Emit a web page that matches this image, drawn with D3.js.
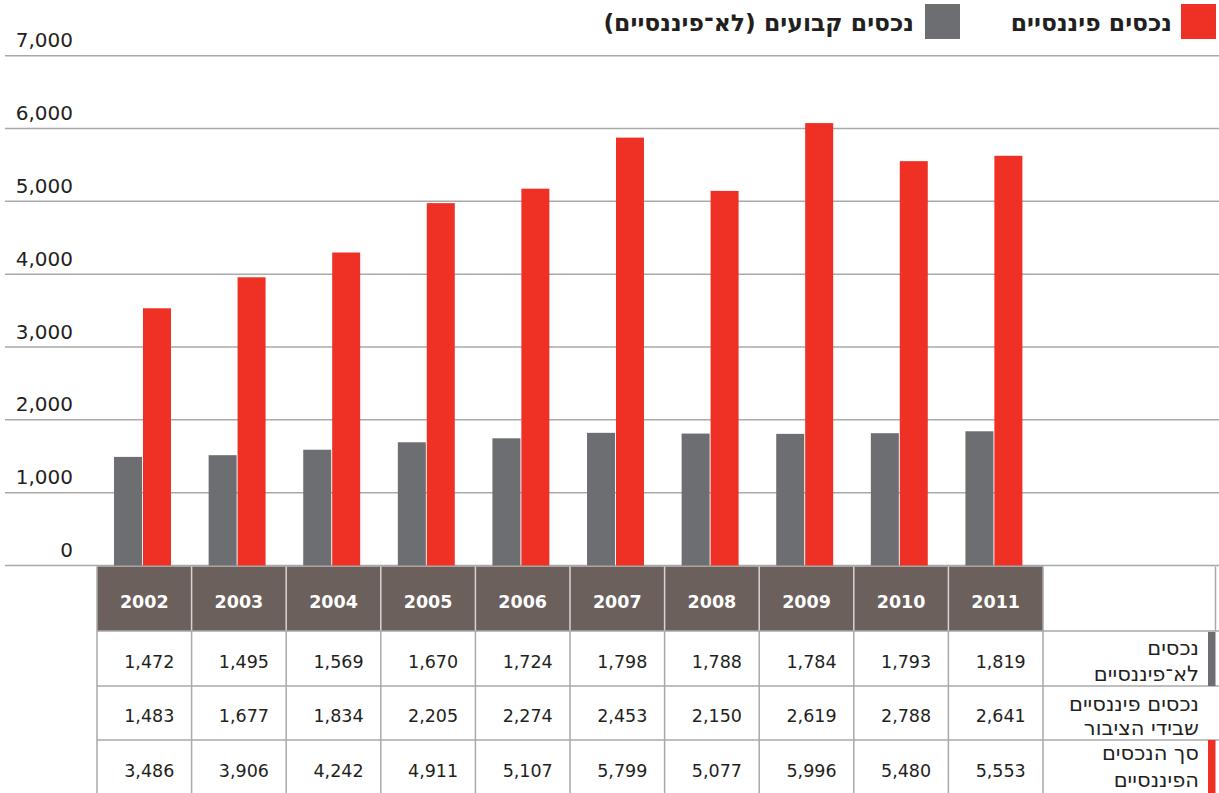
<!DOCTYPE html>
<html>
<head>
<meta charset="utf-8">
<script src="https://cdn.jsdelivr.net/npm/d3@7"></script>
<style>
  body { margin: 0; background: #fff; }
  svg { display: block; font-family: "DejaVu Sans", sans-serif; }
</style>
</head>
<body>
<div id="chart"></div>
<script>
// data
const years = ["2002", "2003", "2004", "2005", "2006", "2007", "2008", "2009", "2010", "2011"];
const nonFinancial = [1472, 1495, 1569, 1670, 1724, 1798, 1788, 1784, 1793, 1819];
const publicFinancial = [1483, 1677, 1834, 2205, 2274, 2453, 2150, 2619, 2788, 2641];
const totalFinancial = [3486, 3906, 4242, 4911, 5107, 5799, 5077, 5996, 5480, 5553];
const yTicks = [0, 1000, 2000, 3000, 4000, 5000, 6000, 7000];
const legendLabels = ["נכסים פיננסיים", "נכסים קבועים (לא־פיננסיים)"];
const rowLabels = [
    ["נכסים", "לא־פיננסיים"],
    ["נכסים פיננסיים", "שבידי הציבור"],
    ["סך הנכסים", "הפיננסיים"]
];

const width = 1219, height = 793;
const red = "#ee3124", gray = "#6d6e71", headFill = "#6b605c", gridCol = "#a9a9a9";

let svg = d3.select("#chart").append("svg")
    .attr("width", width)
    .attr("height", height);

// scales (the bars in the original are drawn a touch taller than the grid)
let y = d3.scaleLinear().domain([0, 7000]).range([565.5, 55.7]);
let yBar = d3.scaleLinear().domain([0, 7000]).range([565.5, 49]);
let x = d3.scaleBand().domain(years).range([97, 1043]).padding(0);
let bw = x.bandwidth();

// gridlines + tick labels
svg.append("g").selectAll("line")
    .data(yTicks)
    .enter().append("line")
    .attr("x1", 5).attr("x2", width)
    .attr("y1", d => y(d)).attr("y2", d => y(d))
    .attr("stroke", gridCol).attr("stroke-width", 1.5);

svg.append("g").selectAll("text")
    .data(yTicks)
    .enter().append("text")
    .attr("x", 73)
    .attr("y", d => y(d) - 8.5)
    .attr("text-anchor", "end")
    .attr("font-size", 20)
    .attr("fill", "#231f20")
    .text(d => d3.format(",")(d));

// bars
let bars = svg.append("g");
bars.selectAll("rect.gray")
    .data(years)
    .enter().append("rect")
    .attr("class", "gray")
    .attr("x", d => x(d) + bw * 0.18)
    .attr("width", bw * 0.296)
    .attr("y", (d, i) => yBar(nonFinancial[i]))
    .attr("height", (d, i) => yBar(0) - yBar(nonFinancial[i]))
    .attr("fill", gray);

bars.selectAll("rect.red")
    .data(years)
    .enter().append("rect")
    .attr("class", "red")
    .attr("x", d => x(d) + bw * 0.486)
    .attr("width", bw * 0.296)
    .attr("y", (d, i) => yBar(totalFinancial[i]))
    .attr("height", (d, i) => yBar(0) - yBar(totalFinancial[i]))
    .attr("fill", red);

// legend
let legend = svg.append("g").attr("font-weight", "bold").attr("font-size", 23.5).attr("fill", "#231f20");
legend.append("rect").attr("x", 1181).attr("y", 4).attr("width", 35).attr("height", 35).attr("fill", red);
legend.append("text").attr("x", 1172).attr("y", 31)
    .attr("direction", "rtl").attr("text-anchor", "start").text(legendLabels[0]);
legend.append("rect").attr("x", 925).attr("y", 4).attr("width", 35).attr("height", 35).attr("fill", gray);
legend.append("text").attr("x", 914).attr("y", 31)
    .attr("direction", "rtl").attr("text-anchor", "start").text(legendLabels[1]);

// table
let tTop = 566.5, headBottom = 631, rowEdges = [631, 686, 740, 793];
let table = svg.append("g");

table.selectAll("rect.head")
    .data(years)
    .enter().append("rect")
    .attr("x", d => x(d))
    .attr("y", tTop)
    .attr("width", bw)
    .attr("height", headBottom - tTop)
    .attr("fill", headFill);

table.selectAll("text.year")
    .data(years)
    .enter().append("text")
    .attr("x", d => x(d) + bw / 2)
    .attr("y", 607.5)
    .attr("text-anchor", "middle")
    .attr("font-size", 17.5)
    .attr("font-weight", "bold")
    .attr("fill", "#fff")
    .text(d => d);

// header separators (light)
table.selectAll("line.hsep")
    .data(years.slice(1))
    .enter().append("line")
    .attr("x1", d => x(d)).attr("x2", d => x(d))
    .attr("y1", tTop).attr("y2", headBottom)
    .attr("stroke", "#d8d4d2").attr("stroke-width", 1.5);

// body vertical lines
let vEdges = years.map(d => x(d)).concat([1043]);
table.selectAll("line.vsep")
    .data(vEdges)
    .enter().append("line")
    .attr("x1", d => d).attr("x2", d => d)
    .attr("y1", (d, i) => (i == 0 || i == vEdges.length - 1) ? tTop : headBottom)
    .attr("y2", height)
    .attr("stroke", gridCol).attr("stroke-width", 1.5);

// horizontal body lines
table.selectAll("line.hrow")
    .data(rowEdges.slice(0, 3))
    .enter().append("line")
    .attr("x1", 97).attr("x2", width)
    .attr("y1", d => d).attr("y2", d => d)
    .attr("stroke", gridCol).attr("stroke-width", 1.5);

// right border of label header cell
table.append("line")
    .attr("x1", 1215.5).attr("x2", 1215.5)
    .attr("y1", tTop).attr("y2", headBottom)
    .attr("stroke", gridCol).attr("stroke-width", 1.5);

// numbers
let rows = [nonFinancial, publicFinancial, totalFinancial];
let rowBase = [668, 722, 777];
rows.forEach((vals, r) => {
    table.append("g").selectAll("text")
        .data(vals)
        .enter().append("text")
        .attr("x", (d, i) => x(years[i]) + bw / 2 + 5)
        .attr("y", rowBase[r])
        .attr("text-anchor", "middle")
        .attr("font-size", 17.5)
        .attr("fill", "#231f20")
        .text(d => d3.format(",")(d));
});

// row labels with colour markers
table.append("rect").attr("x", 1208).attr("y", 632).attr("width", 7.5).attr("height", 54).attr("fill", gray);
table.append("rect").attr("x", 1208).attr("y", 740).attr("width", 7.5).attr("height", 53).attr("fill", red);

// baselines of the two label lines in each row
let labelBase = [[655, 681], [711, 735], [760, 787]];
rowLabels.forEach((lines, r) => {
    let t = table.append("text")
        .attr("direction", "rtl")
        .attr("text-anchor", "start")
        .attr("font-size", 21)
        .attr("fill", "#231f20");
    lines.forEach((ln, k) => {
        t.append("tspan")
            .attr("x", 1199)
            .attr("y", labelBase[r][k])
            .text(ln);
    });
});
</script>
</body>
</html>
